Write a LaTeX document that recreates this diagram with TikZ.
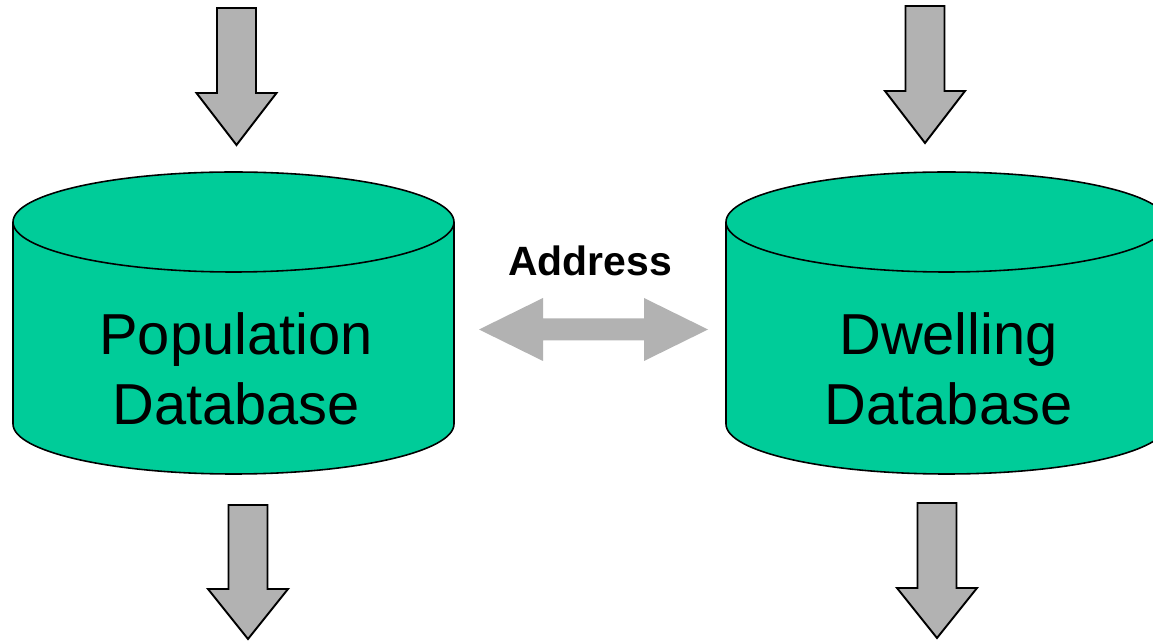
\documentclass[tikz,border=0pt]{standalone}
\usepackage{fontspec}
\setmainfont{Liberation Sans}
\usepackage{tikz}

\definecolor{dbgreen}{RGB}{0,204,153}
\definecolor{arrowgrey}{RGB}{178,178,178}

\begin{document}
\begin{tikzpicture}[x=0.02cm,y=-0.02cm,
  db/.style={fill=dbgreen,draw=black,line width=0.9pt},
  feed/.style={fill=arrowgrey,draw=black,line width=1.1pt,line join=miter},
  link/.style={fill=arrowgrey,draw=none},
  dbtext/.style={font=\fontsize{32.9}{40}\selectfont,text=black,align=center}]
\useasboundingbox (0,0) rectangle (1153,641);
\clip (0,0) rectangle (1153,641);

% population database
\draw[db] (13,222) -- (13,424) arc[start angle=180,end angle=0,x radius=220.5,y radius=50] -- (454,222);
\draw[db] (233.5,222) ellipse [x radius=220.5,y radius=50];
\node[dbtext] (popdb) at (236,369) {Population\\Database};

% dwelling database
\draw[db] (726,222) -- (726,424) arc[start angle=180,end angle=0,x radius=220.5,y radius=50] -- (1167,222);
\draw[db] (946.5,222) ellipse [x radius=220.5,y radius=50];
\node[dbtext] (dwelldb) at (948.5,369) {Dwelling\\Database};

% input and output arrows
\draw[feed] (217,8) -- (256,8) -- (256,93) -- (276.5,93) -- (236.5,145) -- (196.5,93) -- (217,93) -- cycle;
\draw[feed] (228.5,505) -- (267.5,505) -- (267.5,589) -- (288,589) -- (248,639) -- (208,589) -- (228.5,589) -- cycle;
\draw[feed] (905.5,6) -- (944.5,6) -- (944.5,91) -- (965,91) -- (925,143) -- (885,91) -- (905.5,91) -- cycle;
\draw[feed] (917.5,503) -- (956.5,503) -- (956.5,588) -- (977,588) -- (937,638) -- (897,588) -- (917.5,588) -- cycle;

% address link
\fill[link] (479,329.5) -- (543,298) -- (543,318.5) -- (644,318.5) -- (644,298) -- (708,329.5) -- (644,361) -- (644,340.5) -- (543,340.5) -- (543,361) -- cycle;
\node[font=\fontsize{23.3}{28}\selectfont\bfseries,text=black,anchor=base] (addr) at (590,276) {Address};

\end{tikzpicture}
\end{document}
